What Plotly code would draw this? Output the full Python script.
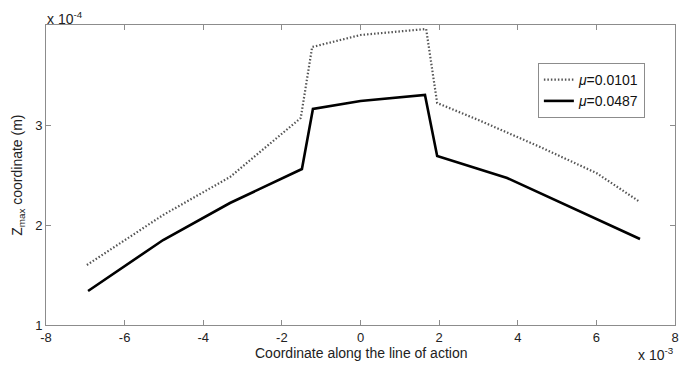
import plotly.graph_objects as go

# x in units of 1e-3, y in units of 1e-4
x_mu1 = [-6.96, -5.02, -3.32, -1.52, -1.23, 0.0, 1.67, 1.95, 3.0, 4.57, 6.0, 7.11]
y_mu1 = [1.60, 2.10, 2.48, 3.07, 3.78, 3.90, 3.96, 3.22, 3.05, 2.78, 2.52, 2.23]

x_mu2 = [-6.93, -5.02, -3.32, -1.49, -1.21, 0.0, 1.64, 1.95, 3.73, 5.41, 7.11]
y_mu2 = [1.34, 1.85, 2.22, 2.56, 3.16, 3.24, 3.30, 2.69, 2.47, 2.17, 1.86]

x_ticks = [-8, -6, -4, -2, 0, 2, 4, 6, 8]
y_ticks = [1, 2, 3]

fig = go.Figure()
fig.add_trace(go.Scatter(x=x_mu1, y=y_mu1, mode="lines", name="<i>μ</i>=0.0101",
                         line=dict(color="#555555", width=2.2, dash="1.5px,2px")))
fig.add_trace(go.Scatter(x=x_mu2, y=y_mu2, mode="lines", name="<i>μ</i>=0.0487",
                         line=dict(color="#000000", width=2.6)))

axis_common = dict(showline=True, linecolor="#8c8c8c", linewidth=1, mirror="ticks",
                   ticks="inside", ticklen=5, tickcolor="#8c8c8c", showgrid=False,
                   zeroline=False, tickfont=dict(family="Liberation Sans, Arial", size=13, color="#222222"))

fig.update_layout(
    width=691, height=366,
    margin=dict(l=46, r=16, t=25, b=41),
    paper_bgcolor="white", plot_bgcolor="white",
    font=dict(family="Liberation Sans, Arial", size=14, color="#222222"),
    xaxis=dict(range=[-8, 8], tickvals=x_ticks, ticktext=[str(v) for v in x_ticks], ticklabelstandoff=0, **axis_common),
    yaxis=dict(range=[1, 4], tickvals=y_ticks, ticktext=[str(v) for v in y_ticks], **axis_common),
    legend=dict(x=0.782, y=0.873, xanchor="left", yanchor="top", bgcolor="white",
                bordercolor="#8c8c8c", borderwidth=1, font=dict(size=14, color="#111111"),
                itemwidth=30, tracegroupgap=0),
    showlegend=True,
)

fig.add_annotation(text="Coordinate along the line of action", xref="paper", yref="paper",
                   x=0.5, y=-0.094, yanchor="middle", showarrow=False,
                   font=dict(size=14, color="#222222"))
fig.add_annotation(text="Z<sub>max</sub> coordinate (m)", xref="paper", yref="paper",
                   x=-0.045, y=0.5, xanchor="center", yanchor="middle", textangle=-90, showarrow=False,
                   font=dict(size=14, color="#222222"))
fig.add_annotation(text="x 10<sup>-4</sup>", xref="paper", yref="paper",
                   x=-0.002, y=1.025, xanchor="left", yanchor="middle", showarrow=False,
                   font=dict(size=14, color="#222222"))
fig.add_annotation(text="x 10<sup>-3</sup>", xref="paper", yref="paper",
                   x=1.002, y=-0.097, xanchor="right", yanchor="middle", showarrow=False,
                   font=dict(size=14, color="#222222"))

fig.write_html("out.html", post_script="document.body.style.margin='0px';",
               config={"displayModeBar": False})
